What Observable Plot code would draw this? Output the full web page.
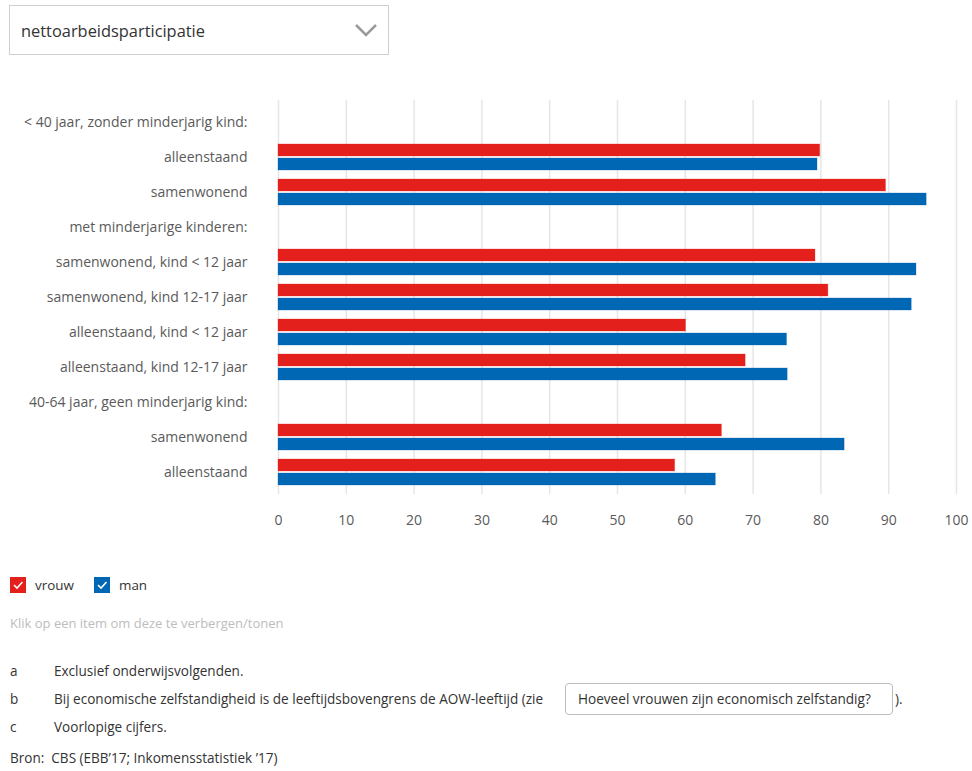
<!DOCTYPE html>
<html>
<head>
<meta charset="utf-8">
<script src="https://cdn.jsdelivr.net/npm/d3@7"></script>
<script src="https://cdn.jsdelivr.net/npm/@observablehq/plot@0.6"></script>
<style>
  html, body { margin: 0; padding: 0; background: #fff; }
  body { width: 972px; height: 771px; position: relative; font-family: "Open Sans", "Noto Sans", sans-serif; color: #333; overflow: hidden; }
  .abs { position: absolute; white-space: nowrap; line-height: 20px; }
  #dropdown { left: 9px; top: 5px; width: 378px; height: 48px; border: 1px solid #cfcfcf; }
  #dropdown span { position: absolute; left: 11px; top: 15px; font-size: 16.4px; line-height: 20px; color: #333; }
  #dropdown svg { position: absolute; left: 344px; top: 16px; }
  #chart { left: 0; top: 90px; line-height: normal; }
  .leg { font-size: 13.4px; color: #333; }
  .note { font-size: 13.55px; color: #333; }
  #btn { left: 565px; top: 683px; width: 326px; height: 30px; border: 1px solid #bdbdbd; border-radius: 4px; }
  #btn span { position: absolute; left: 12px; top: 5px; font-size: 13.6px; line-height: 20px; color: #333; }
</style>
</head>
<body>
<div id="dropdown" class="abs"><span>nettoarbeidsparticipatie</span>
  <svg width="26" height="18"><polyline points="2,3 12,13 22,3" fill="none" stroke="#9a9a9a" stroke-width="2.5"/></svg>
</div>
<div id="chart" class="abs"></div>

<svg class="abs" style="left:10px;top:577px" width="16" height="16"><rect width="16" height="16" fill="#e3201b"/><polyline points="4,8 7,11 12.5,5" fill="none" stroke="#fff" stroke-width="1.6"/></svg>
<div class="abs leg" style="left:35px;top:575px">vrouw</div>
<svg class="abs" style="left:94px;top:577px" width="16" height="16"><rect width="16" height="16" fill="#0067b4"/><polyline points="4,8 7,11 12.5,5" fill="none" stroke="#fff" stroke-width="1.6"/></svg>
<div class="abs leg" style="left:119px;top:575px">man</div>

<div class="abs" style="left:10px;top:613px;font-size:13px;color:#bdbdbd">Klik op een item om deze te verbergen/tonen</div>

<div class="abs note" style="left:10px;top:661px">a</div>
<div class="abs note" style="left:54px;top:661px">Exclusief onderwijsvolgenden.</div>
<div class="abs note" style="left:10px;top:689px">b</div>
<div class="abs note" style="left:54px;top:689px">Bij economische zelfstandigheid is de leeftijdsbovengrens de AOW-leeftijd (zie</div>
<div id="btn" class="abs"><span>Hoeveel vrouwen zijn economisch zelfstandig?</span></div>
<div class="abs note" style="left:895px;top:689px">).</div>
<div class="abs note" style="left:10px;top:717px">c</div>
<div class="abs note" style="left:54px;top:717px">Voorlopige cijfers.</div>
<div class="abs note" style="left:10px;top:748px">Bron:&nbsp; CBS (EBB’17; Inkomensstatistiek ’17)</div>

<script>
// ---- data ----
const categories = [
  "< 40 jaar, zonder minderjarig kind:",
  "alleenstaand",
  "samenwonend",
  "met minderjarige kinderen:",
  "samenwonend, kind < 12 jaar",
  "samenwonend, kind 12-17 jaar",
  "alleenstaand, kind < 12 jaar",
  "alleenstaand, kind 12-17 jaar",
  "40-64 jaar, geen minderjarig kind:",
  "samenwonend",
  "alleenstaand"
];
const vrouw = [null, 79.9, 89.6, null, 79.2, 81.1, 60.1, 68.9, null, 65.4, 58.5];
const man   = [null, 79.5, 95.6, null, 94.1, 93.4, 75.0, 75.1, null, 83.5, 64.5];
const xTicks = [0, 10, 20, 30, 40, 50, 60, 70, 80, 90, 100];

const RED = "#e3201b", BLUE = "#0067b4";
const idx = categories.map((_, i) => i);
const rowsV = idx.filter(i => vrouw[i] != null).map(i => ({i, v: vrouw[i]}));
const rowsM = idx.filter(i => man[i] != null).map(i => ({i, v: man[i]}));

const chart = Plot.plot({
  width: 972,
  height: 444,
  marginLeft: 278,
  marginRight: 16,
  marginTop: 10,
  marginBottom: 40,
  style: {fontFamily: "'Open Sans', 'Noto Sans', sans-serif", fontSize: "14px", color: "#5a5a5a", background: "transparent"},
  x: {domain: [0, 100], ticks: xTicks, tickSize: 0, tickPadding: 21, label: null, tickFormat: d => String(d)},
  y: {domain: idx, paddingInner: 0.27, paddingOuter: 0.135, tickSize: 0, tickPadding: 31, label: null, tickFormat: i => categories[i]},
  marks: [
    Plot.ruleX(xTicks, {stroke: "#e6e6e6", strokeWidth: 1.5}),
    Plot.barX(rowsV, {x: "v", y: "i", fill: RED, stroke: RED, strokeOpacity: 0.3, strokeWidth: 1, insetBottom: 14}),
    Plot.barX(rowsM, {x: "v", y: "i", fill: BLUE, stroke: BLUE, strokeOpacity: 0.3, strokeWidth: 1, insetTop: 14})
  ]
});
document.getElementById("chart").appendChild(chart);
</script>
</body>
</html>
